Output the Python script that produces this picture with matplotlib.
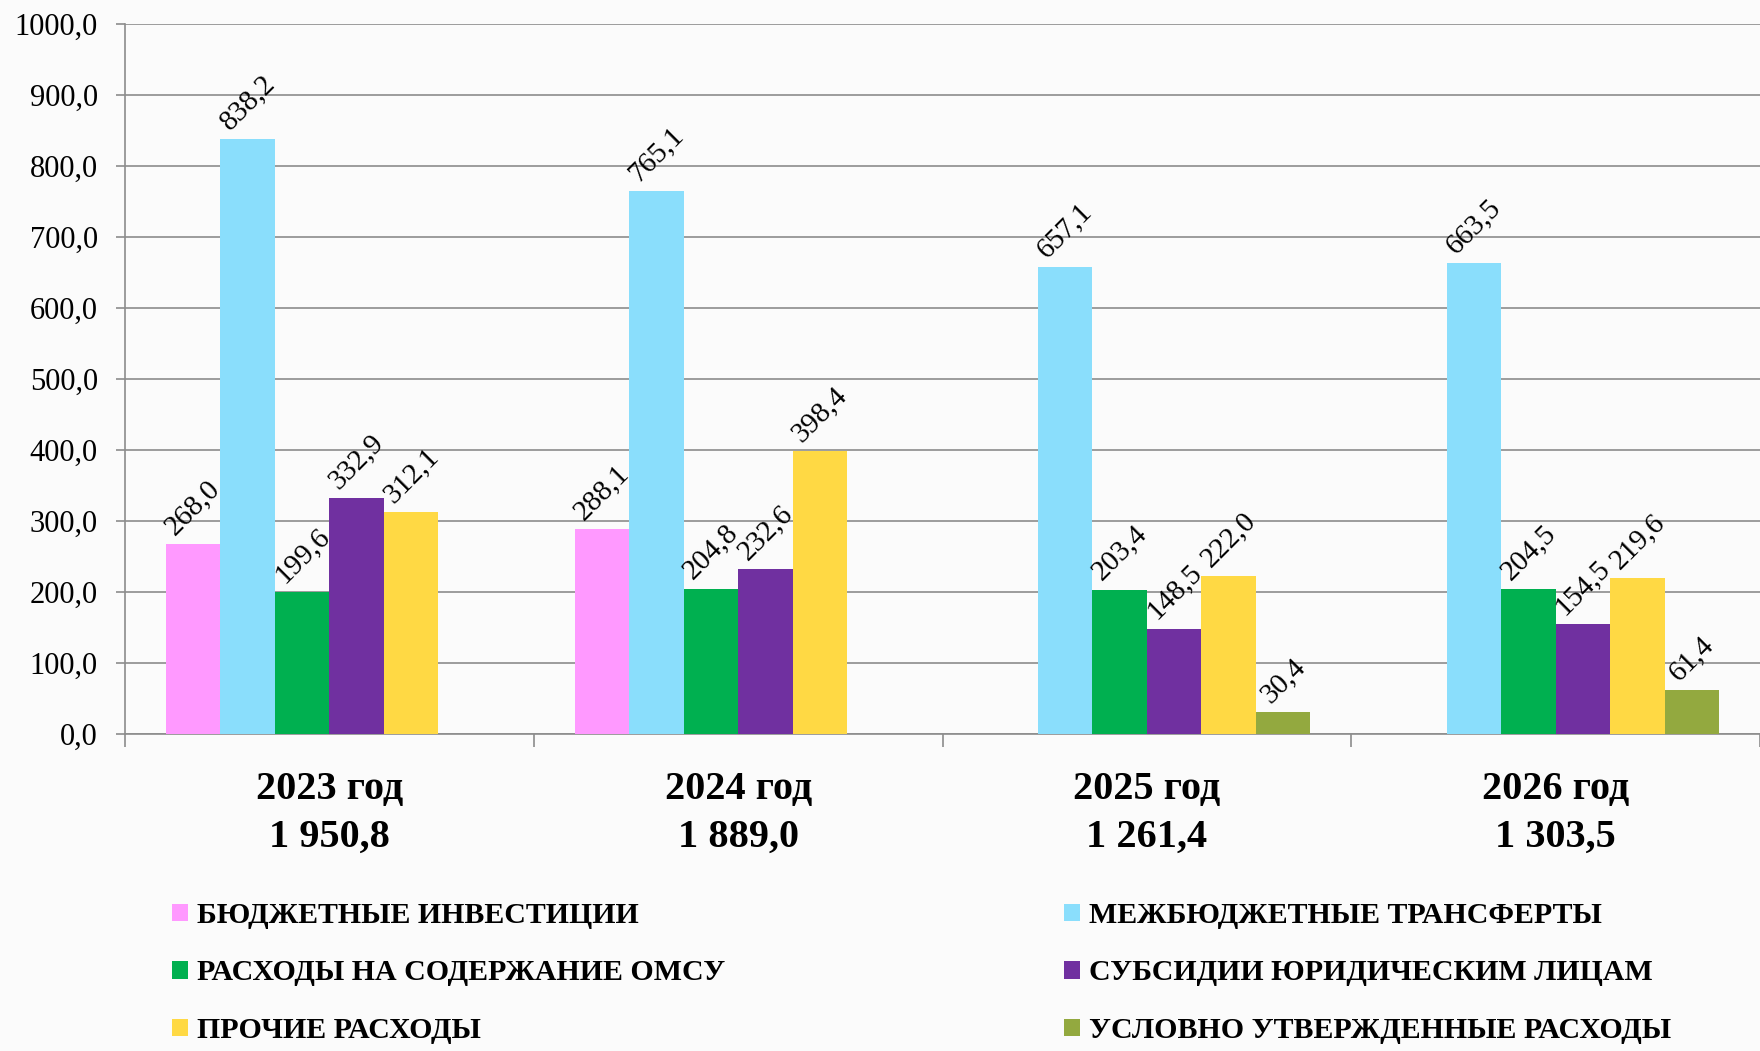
import numpy as np
import matplotlib
matplotlib.use("Agg")
import matplotlib.pyplot as plt
from matplotlib.transforms import blended_transform_factory

# ---- data ----
years = ["2023 год", "2024 год", "2025 год", "2026 год"]
totals = ["1 950,8", "1 889,0", "1 261,4", "1 303,5"]
series_names = [
    "БЮДЖЕТНЫЕ ИНВЕСТИЦИИ",
    "МЕЖБЮДЖЕТНЫЕ ТРАНСФЕРТЫ",
    "РАСХОДЫ НА СОДЕРЖАНИЕ ОМСУ",
    "СУБСИДИИ ЮРИДИЧЕСКИМ ЛИЦАМ",
    "ПРОЧИЕ РАСХОДЫ",
    "УСЛОВНО УТВЕРЖДЕННЫЕ РАСХОДЫ",
]
budget_invest = [268.0, 288.1, None, None]
interbudget = [838.2, 765.1, 657.1, 663.5]
omsu = [199.6, 204.8, 203.4, 204.5]
subsidies = [332.9, 232.6, 148.5, 154.5]
other = [312.1, 398.4, 222.0, 219.6]
conditional = [None, None, 30.4, 61.4]
series_values = [budget_invest, interbudget, omsu, subsidies, other, conditional]
colors = ["#FF99FF", "#8ADEFC", "#00B050", "#7030A0", "#FFD944", "#93A93F"]
yticks = np.arange(0, 1001, 100)

serif = ["Liberation Serif", "DejaVu Serif"]

fig = plt.figure(figsize=(17.6, 10.51), dpi=100)
fig.patch.set_facecolor("#fbfbfb")
W, H = 1760, 1051
ax = fig.add_axes([125 / W, (H - 734) / H, 1 - 125 / W, (734 - 24) / H])
ax.set_facecolor("none")

n = len(series_values)
w = 1 / 7.5
x = np.arange(len(years))
containers = []
for i, (vals, col) in enumerate(zip(series_values, colors)):
    idx = [j for j, v in enumerate(vals) if v is not None]
    hv = [vals[j] for j in idx]
    xs = x[idx] + (i - (n - 1) / 2) * w
    bc = ax.bar(xs, hv, width=w, color=col, zorder=3, label=series_names[i])
    containers.append(bc)
    for xx, v in zip(xs, hv):
        ax.annotate(f"{v:.1f}".replace(".", ","), (xx, v), xytext=(0, 3),
                    textcoords="offset points", ha="center", va="bottom",
                    rotation=45, fontsize=21, family=serif, zorder=4)

ax.set_ylim(0, 1000)
ax.set_xlim(-0.5, -0.5 + 1635 / 411.3)
ax.set_yticks(yticks)
ax.set_yticklabels([f"{v:.1f}".replace(".", ",") for v in yticks],
                   fontsize=22, family=serif)
ax.set_xticks(np.arange(-0.5, len(years) + 0.5, 1))
ax.set_xticklabels([])
ax.yaxis.grid(True, color="#8c8c8c", linewidth=1.2, zorder=0)
ax.tick_params(axis="y", length=6.5, width=1.2, color="#8c8c8c", pad=13)
ax.tick_params(axis="x", length=9, width=1.2, color="#8c8c8c")
for s in ["top", "right"]:
    ax.spines[s].set_visible(False)
for s in ["left", "bottom"]:
    ax.spines[s].set_color("#8c8c8c")
    ax.spines[s].set_linewidth(1.2)

# category labels
tr = blended_transform_factory(ax.transData, fig.transFigure)
for xi, (yr, tot) in enumerate(zip(years, totals)):
    ax.text(xi, (H - 789) / H, yr, transform=tr, ha="center", va="center",
            fontsize=29, fontweight="bold", family=serif)
    ax.text(xi, (H - 837) / H, tot, transform=tr, ha="center", va="center",
            fontsize=29, fontweight="bold", family=serif)

# legend in two columns
leg_kw = dict(frameon=False, loc="upper left", handlelength=0.53,
              handleheight=0.53, handletextpad=0.3, labelspacing=1.02,
              borderpad=0, borderaxespad=0,
              prop={"family": serif, "weight": "bold", "size": 21.5})
l1 = fig.legend([containers[k] for k in (0, 2, 4)], [series_names[k] for k in (0, 2, 4)],
                bbox_to_anchor=(172 / W, (H - 902) / H), **leg_kw)
l2 = fig.legend([containers[k] for k in (1, 3, 5)], [series_names[k] for k in (1, 3, 5)],
                bbox_to_anchor=(1064 / W, (H - 902) / H), **leg_kw)

fig.savefig("out.png", dpi=100, facecolor=fig.get_facecolor())
